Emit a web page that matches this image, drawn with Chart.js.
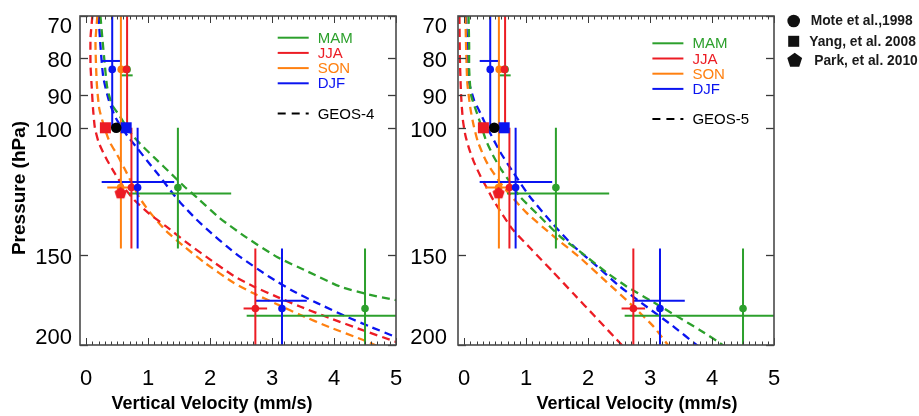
<!DOCTYPE html>
<html>
<head>
<meta charset="utf-8">
<script src="https://cdn.jsdelivr.net/npm/chart.js@4.4.1/dist/chart.umd.min.js"></script>
<style>
  html, body { margin: 0; padding: 0; background: #fff; }
  #wrap { position: relative; width: 919px; height: 416px; overflow: hidden; background: #fff; }
  canvas { position: absolute; top: 0; }
  #left { left: 0; }
  #right { left: 400px; }
</style>
</head>
<body>
<div id="wrap">
  <canvas id="left" width="430" height="416"></canvas>
  <canvas id="right" width="519" height="416"></canvas>
</div>
<script>
// ---- axis ticks ----
const xTickValues = [0, 1, 2, 3, 4, 5];
const pressureTicks = [70, 80, 90, 100, 150, 200];
const seasons = ['MAM', 'JJA', 'SON', 'DJF'];

// ---- GEOS-4 seasonal profiles: [pressure (hPa), vertical velocity (mm/s)] ----
const geos4MAM = [[70,0.23],[75,0.26],[80,0.29],[88,0.34],[93,0.42],[96,0.53],[100,0.66],[103,0.77],[106.5,0.93],[110,1.1],[116,1.38],[121,1.6],[125,1.79],[133.5,2.16],[142,2.59],[151,3.08],[158,3.56],[166,4.1],[170,4.53],[173,4.95],[174,5.1]];
const geos4JJA = [[70,0.1],[75,0.07],[82,0.07],[88,0.09],[94,0.11],[100,0.14],[104.7,0.2],[108,0.27],[111,0.34],[115.6,0.46],[120.7,0.6],[126,0.78],[131.6,1.02],[137,1.29],[144.5,1.635],[151,1.94],[160.4,2.38],[165.9,2.7],[171.5,3.08],[176.9,3.45],[183.5,3.93],[190.6,4.45],[198,5.0],[200,5.12]];
const geos4SON = [[70,0.18],[76,0.15],[86.5,0.17],[94,0.21],[99,0.28],[104.7,0.38],[109,0.5],[114,0.62],[119,0.73],[125,0.86],[131,1.03],[139,1.29],[146.5,1.6],[154,1.92],[164,2.38],[169.6,2.7],[175.6,3.08],[181.6,3.45],[189,3.93],[196.5,4.45],[200,4.66],[203,4.85]];
const geos4DJF = [[70,0.2],[77,0.23],[85,0.275],[91.6,0.365],[97,0.48],[102.5,0.66],[106.6,0.82],[111,0.98],[116,1.16],[124,1.42],[127,1.52],[134,1.78],[140,2.02],[146,2.27],[151,2.485],[161,2.96],[168.5,3.345],[175,3.73],[183.5,4.25],[188.3,4.56],[195,5.0],[197,5.12]];

// ---- GEOS-5 seasonal profiles ----
const geos5MAM = [[70,0.07],[77,0.08],[83,0.08],[90,0.11],[94.6,0.19],[99.1,0.27],[104,0.35],[109,0.46],[114,0.59],[119,0.74],[124.6,0.9],[132.7,1.22],[141.3,1.54],[148.5,1.87],[158.7,2.3],[165.9,2.62],[174.4,3.05],[182.4,3.43],[190.6,3.8],[198.6,4.12],[204,4.3]];
const geos5JJA = [[70,-0.077],[80.6,-0.069],[90.1,-0.05],[97.6,-0.021],[102.4,0.019],[106.7,0.076],[111.5,0.156],[116.6,0.261],[121.2,0.366],[126,0.471],[132.1,0.624],[138.6,0.79],[147.6,1.092],[158.3,1.431],[170,1.769],[182.5,2.108],[200,2.544],[206.9,2.705]];
const geos5SON = [[70,0.02],[77,0.03],[86.5,0.05],[94,0.1],[99,0.15],[104.5,0.22],[111.5,0.36],[120.7,0.63],[131,1.0],[141.3,1.44],[151.4,1.87],[163.6,2.3],[176.9,2.73],[188.3,3.05],[198.6,3.26],[204,3.36]];
const geos5DJF = [[70,0.03],[77.4,0.05],[86.5,0.08],[91.6,0.16],[94.6,0.24],[99.1,0.35],[108,0.58],[115.6,0.8],[124.6,1.06],[136.2,1.44],[145.7,1.76],[156.8,2.19],[165.9,2.51],[176.9,2.94],[188.3,3.37],[200,3.75],[204,3.86]];

// ---- observations: [season, pressure, velocity] ----
const moteSeasonal = [
  ['DJF', 83, 0.42], ['JJA', 83, 0.65], ['SON', 83, 0.565], ['MAM', 83, 0.66],
  ['DJF', 121, 0.83], ['JJA', 121, 0.73], ['SON', 121, 0.555], ['MAM', 121, 1.48],
  ['JJA', 178, 2.73], ['DJF', 178, 3.16], ['MAM', 178, 4.5]
];
const moteAnnual = [[100, 0.485]];
const yangPoints = [['JJA', 100, 0.31], ['DJF', 100, 0.645]];
const parkPoints = [['JJA', 123, 0.555]];

// pressure spread: [season, velocity, pressure top, pressure bottom]
const pressureRanges = [
  ['DJF', 0.42, 60, 100], ['SON', 0.56, 60, 100], ['JJA', 0.66, 60, 100],
  ['SON', 0.56, 100, 147], ['JJA', 0.73, 100, 147], ['DJF', 0.83, 100, 147], ['MAM', 1.48, 100, 147],
  ['JJA', 2.73, 147, 220], ['DJF', 3.16, 147, 220], ['MAM', 4.5, 147, 220]
];
// velocity spread: [season, pressure, velocity low, velocity high]
const velocityRanges = [
  ['DJF', 80.8, 0.25, 0.57], ['MAM', 84.6, 0.565, 0.75],
  ['DJF', 118.9, 0.25, 1.42], ['SON', 121, 0.34, 0.72], ['MAM', 123.3, 0.69, 2.34],
  ['JJA', 178, 2.54, 2.92], ['DJF', 173.7, 2.74, 3.56], ['MAM', 182.2, 2.59, 5.3]
];

const sourceLabels = ['Mote et al.,1998', 'Yang, et al. 2008', 'Park, et al. 2010'];

// ---- styling ----
const FONT = '"Liberation Sans", Arial, Helvetica, sans-serif';
const seasonColor = { MAM: '#2ca02c', JJA: '#ec1c24', SON: '#ff8010', DJF: '#0a14f0' };
Chart.defaults.font.family = FONT;

function pentagonPath(ctx, cx, cy, r) {
  ctx.beginPath();
  for (let k = 0; k < 5; k++) {
    const ang = -Math.PI / 2 + k * 2 * Math.PI / 5;
    const px = cx + r * Math.cos(ang), py = cy + r * Math.sin(ang);
    if (k === 0) ctx.moveTo(px, py); else ctx.lineTo(px, py);
  }
  ctx.closePath();
}
function pentagonSprite(color, r) {
  const c = document.createElement('canvas');
  const s = Math.ceil(2 * r + 2);
  c.width = s; c.height = s;
  const g = c.getContext('2d');
  g.fillStyle = color;
  pentagonPath(g, s / 2, s / 2 + r * 0.1, r);
  g.fill();
  return c;
}

const asXY = pts => pts.map(([p, v]) => ({ x: v, y: p }));

function profileDataset(points, color) {
  return { data: asXY(points), showLine: true, borderColor: color, borderWidth: 2.3,
           borderDash: [8, 5], pointRadius: 0, tension: 0.2, clip: 0, order: 30 };
}
function barDataset(data, color) {
  return { data, showLine: true, borderColor: color, borderWidth: 2,
           pointRadius: 0, tension: 0, clip: 0, order: 20 };
}
function markerDataset(v, p, color, style, radius, order) {
  return { data: [{ x: v, y: p }], showLine: false, pointStyle: style, pointRadius: radius,
           pointBackgroundColor: color, pointBorderColor: color, pointBorderWidth: 0, clip: 0, order };
}

function buildDatasets(profiles) {
  const ds = [];
  seasons.forEach((s, k) => ds.push(profileDataset(profiles[k], seasonColor[s])));
  pressureRanges.forEach(([s, v, p1, p2]) =>
    ds.push(barDataset([{ x: v, y: p1 }, { x: v, y: p2 }], seasonColor[s])));
  velocityRanges.forEach(([s, p, v1, v2]) =>
    ds.push(barDataset([{ x: v1, y: p }, { x: v2, y: p }], seasonColor[s])));
  moteSeasonal.forEach(([s, p, v]) => ds.push(markerDataset(v, p, seasonColor[s], 'circle', 3.8, 10)));
  moteAnnual.forEach(([p, v]) => ds.push(markerDataset(v, p, '#000', 'circle', 5.3, 5)));
  yangPoints.forEach(([s, p, v]) => ds.push(markerDataset(v, p, seasonColor[s], 'rect', 7.8, 6)));
  parkPoints.forEach(([s, p, v]) => ds.push(markerDataset(v, p, seasonColor[s], pentagonSprite(seasonColor[s], 6.4), 6.4, 5)));
  return ds;
}

// frame, inward ticks, pressure labels, titles and legends
const panelDecor = {
  id: 'panelDecor',
  afterDraw(chart, args, o) {
    const { ctx, chartArea: a } = chart;
    const xs = chart.scales.x, ys = chart.scales.y;
    const seg = (x1, y1, x2, y2) => { ctx.beginPath(); ctx.moveTo(x1, y1); ctx.lineTo(x2, y2); ctx.stroke(); };
    ctx.save();

    ctx.strokeStyle = '#3a3a3a';
    ctx.lineWidth = 1;
    for (let i = 0; i <= 50; i++) {
      const px = Math.round(xs.getPixelForValue(i / 10)) + 0.5;
      const len = i % 10 === 0 ? 7 : 3.5;
      seg(px, a.bottom, px, a.bottom - len);
      seg(px, a.top, px, a.top + len);
    }
    ctx.lineWidth = 1.3;
    pressureTicks.forEach(p => {
      const py = Math.round(ys.getPixelForValue(p)) + 0.5;
      seg(a.left, py, a.left + 8, py);
      seg(a.right, py, a.right - 8, py);
    });

    ctx.strokeStyle = '#4a4a4a';
    ctx.lineWidth = 1.6;
    ctx.strokeRect(a.left, a.top, a.right - a.left, a.bottom - a.top);

    // pressure labels, kept inside the frame height
    ctx.fillStyle = '#000';
    ctx.font = `22px ${FONT}`;
    ctx.textAlign = 'right';
    ctx.textBaseline = 'middle';
    pressureTicks.forEach(p => {
      let py = ys.getPixelForValue(p) + 3;
      py = Math.max(a.top + 11, Math.min(a.bottom - 7, py));
      ctx.fillText(String(p), a.left - o.labelGap, py);
    });

    // axis titles
    ctx.font = `bold 18px ${FONT}`;
    ctx.textAlign = 'center';
    ctx.fillText('Vertical Velocity (mm/s)', o.titleX, 404);
    if (o.yTitle) {
      ctx.save();
      ctx.translate(20, 188);
      ctx.rotate(-Math.PI / 2);
      ctx.font = `bold 19px ${FONT}`;
      ctx.fillText('Pressure (hPa)', 0, 0);
      ctx.restore();
    }

    // season / model legend
    const lx = a.left + o.legendDx, ly = a.top + o.legendDy;
    ctx.font = `15px ${FONT}`;
    ctx.textAlign = 'left';
    ctx.lineWidth = 2;
    seasons.forEach((s, k) => {
      const y = ly + k * 15.2;
      ctx.strokeStyle = seasonColor[s];
      seg(lx, y, lx + 31, y);
      ctx.fillStyle = seasonColor[s];
      ctx.fillText(s, lx + 40, y + 1);
    });
    const gy = ly + 75.8;
    ctx.strokeStyle = '#000';
    ctx.setLineDash([8, 6]);
    seg(lx, gy, lx + 31, gy);
    ctx.setLineDash([]);
    ctx.fillStyle = '#000';
    ctx.fillText(o.model, lx + 40, gy + 1);

    // observation source key
    if (o.sourceKey) {
      const k = o.sourceKey;
      ctx.fillStyle = '#111';
      ctx.beginPath(); ctx.arc(k.x, 21, 6.3, 0, Math.PI * 2); ctx.fill();
      ctx.fillRect(k.x - 5.5, 41.3 - 5.5, 11, 11);
      pentagonPath(ctx, k.x + 1, 60.5, 7.8); ctx.fill();
      ctx.font = `bold 13.8px ${FONT}`;
      ctx.fillStyle = '#1a1a1a';
      ctx.fillText(sourceLabels[0], k.x + 17, 21.5);
      ctx.fillText(sourceLabels[1], k.x + 15.5, 42);
      ctx.fillText(sourceLabels[2], k.x + 20.5, 61);
    }
    ctx.restore();
  }
};

function makePanel(id, profiles, padding, deco) {
  return new Chart(document.getElementById(id), {
    type: 'scatter',
    data: { datasets: buildDatasets(profiles) },
    options: {
      responsive: false,
      animation: false,
      events: [],
      devicePixelRatio: 1,
      layout: { padding },
      plugins: { legend: { display: false }, tooltip: { enabled: false }, panelDecor: deco },
      scales: {
        x: {
          type: 'linear', position: 'bottom', min: -0.1, max: 5,
          afterBuildTicks: s => { s.ticks = xTickValues.map(v => ({ value: v })); },
          afterFit: s => { s.height = 71; },
          grid: { display: false },
          border: { display: false },
          ticks: { color: '#000', font: { size: 22 }, padding: 13, maxRotation: 0, autoSkip: false,
                   callback: v => String(v) }
        },
        y: {
          type: 'logarithmic', display: false, min: 70, max: 200, reverse: true
        }
      }
    },
    plugins: [panelDecor]
  });
}

makePanel('left', [geos4MAM, geos4JJA, geos4SON, geos4DJF],
  { left: 80, top: 16, right: 34, bottom: 0 },
  { model: 'GEOS-4', labelGap: 8, titleX: 212, yTitle: true, legendDx: 197.7, legendDy: 21.7 });

makePanel('right', [geos5MAM, geos5JJA, geos5SON, geos5DJF],
  { left: 58, top: 16, right: 145, bottom: 0 },
  { model: 'GEOS-5', labelGap: 11, titleX: 237, yTitle: false, legendDx: 194.4, legendDy: 27.3,
    sourceKey: { x: 393.7 } });
</script>
</body>
</html>
